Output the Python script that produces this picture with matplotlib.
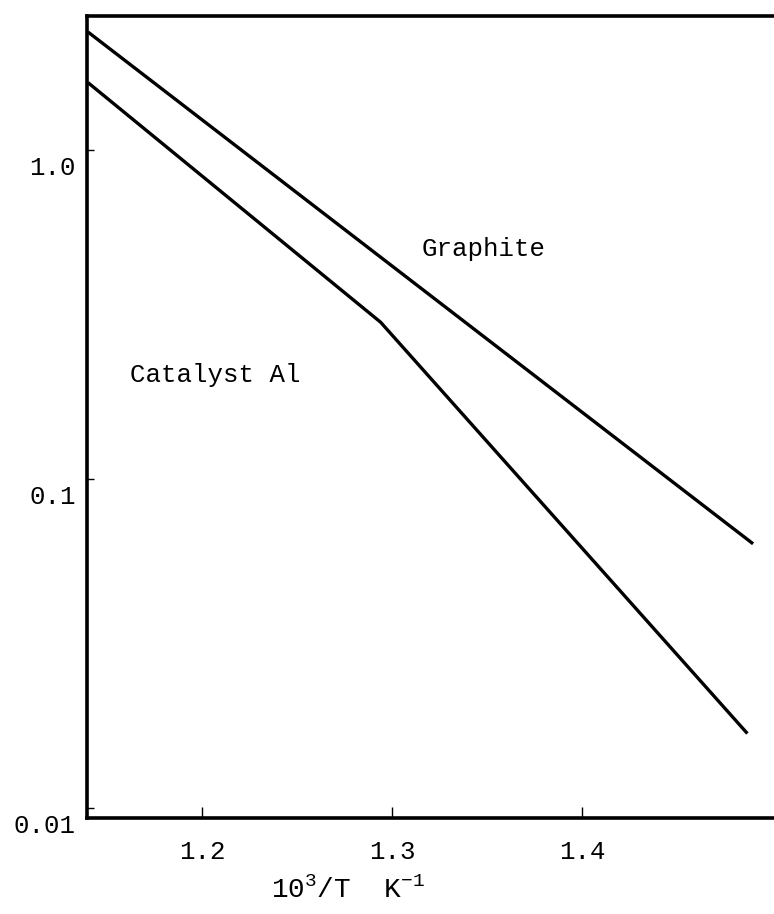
import numpy as np
import matplotlib.pyplot as plt
from matplotlib.ticker import FixedLocator, NullLocator
import matplotlib.transforms as mtransforms

plt.rcParams['font.family'] = ['Liberation Mono', 'DejaVu Sans Mono']
plt.rcParams['mathtext.fontset'] = 'custom'
plt.rcParams['mathtext.rm'] = 'Liberation Mono'
plt.rcParams['mathtext.it'] = 'Liberation Mono'

# values (x = 10^3/T, y on log scale)
graphite_x = [1.14, 1.490]
graphite_y = [2.28, 0.0634]
catalyst_x = [1.14, 1.294, 1.487]
catalyst_y = [1.60, 0.299, 0.0168]

x_ticks = [1.2, 1.3, 1.4]
y_ticks = [0.01, 0.1, 1.0]
y_tick_labels = ['0.01', '0.1', '1.0']

fig = plt.figure(figsize=(7.74, 9.14), dpi=100)
ax = fig.add_axes([0.1124, 0.105, 0.8876, 0.8775])

ax.plot(graphite_x, graphite_y, color='black', lw=2.4, solid_capstyle='butt')
ax.plot(catalyst_x, catalyst_y, color='black', lw=2.4, solid_capstyle='butt')

ax.set_yscale('log')
ax.set_xlim(1.1395, 1.501)
ax.set_ylim(0.0093, 2.55)

ax.xaxis.set_major_locator(FixedLocator(x_ticks))
ax.set_xticklabels(['%.1f' % v for v in x_ticks])
ax.yaxis.set_major_locator(FixedLocator(y_ticks))
ax.yaxis.set_minor_locator(NullLocator())
ax.set_yticklabels(y_tick_labels)

ax.tick_params(axis='x', direction='in', length=8, width=1, pad=16, labelsize=18.5)
ax.tick_params(axis='y', direction='in', length=5, width=1, pad=8, labelsize=18.5)

# the typed y labels sit a little below their ticks
off = mtransforms.ScaledTranslation(0, -16 / 100, fig.dpi_scale_trans)
for lbl in ax.get_yticklabels():
    lbl.set_transform(lbl.get_transform() + off)

for s in ['left', 'bottom', 'top']:
    ax.spines[s].set_linewidth(2.6)
ax.spines['right'].set_visible(False)

ax.set_xlabel('10$^{3}$/T  K$^{-1}$', fontsize=20)
ax.xaxis.set_label_coords(0.38, -0.074)

ax.text(1.348, 0.50, 'Graphite', fontsize=18.5, ha='center', va='center')
ax.text(1.207, 0.206, 'Catalyst Al', fontsize=18.5, ha='center', va='center')

plt.savefig('out.png', dpi=100)
